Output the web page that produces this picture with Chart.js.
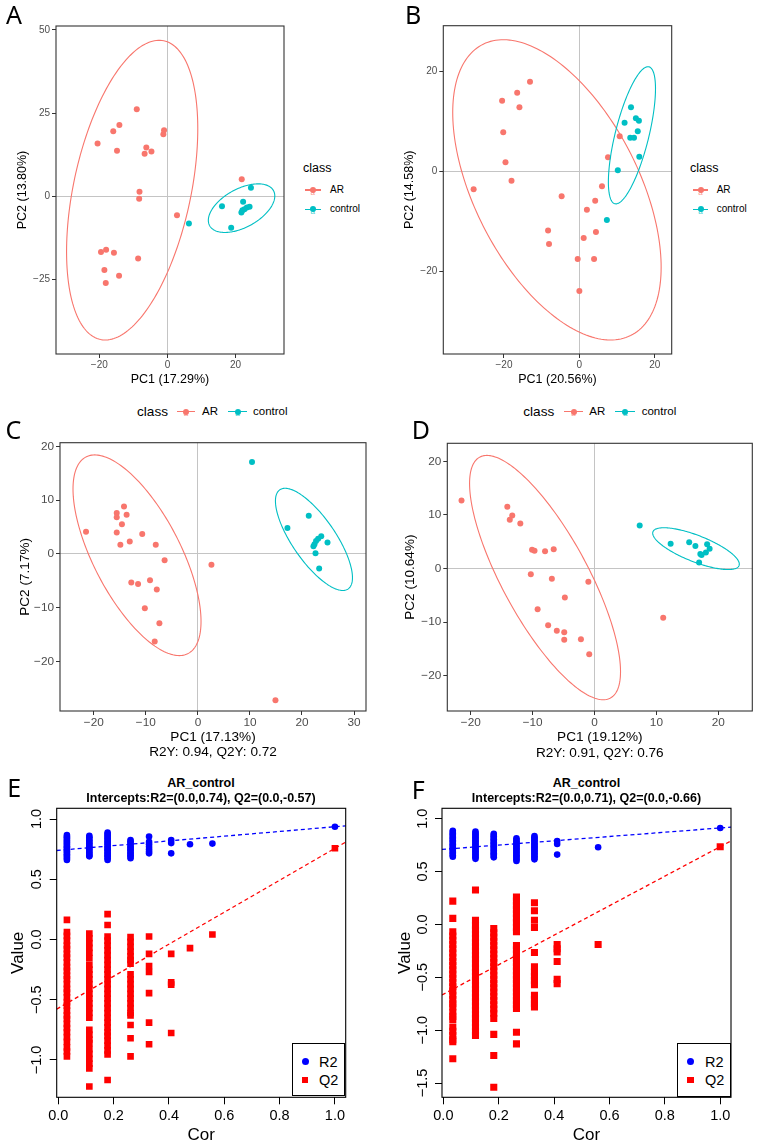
<!DOCTYPE html>
<html>
<head>
<meta charset="utf-8">
<title>PCA, OPLS-DA and permutation plots</title>
<script src="https://cdn.jsdelivr.net/npm/chart.js@4.4.1/dist/chart.umd.min.js"></script>
<style>
html, body { margin: 0; padding: 0; background: #fff; overflow: hidden; }
body { width: 759px; height: 1145px; position: relative; }
canvas { position: absolute; }
.t { position: absolute; white-space: nowrap; line-height: 1; color: #000; }
.letter { position: absolute; font-family: "Noto Sans", sans-serif; font-size: 25px; line-height: 1; color: #000; }
</style>
</head>
<body>
<script>
// ---------- data ----------

// A: PCA
const aArX = [-20.5, -15.9, -14.1, -14.8, -9.0, -1.0, -1.2, -6.2, -6.7, -4.7, -8.2, -8.3, 2.8, 21.8, -19.5, -18.0, -15.7, -8.6, -18.5, -14.2, -18.1];
const aArY = [15.9, 19.6, 21.5, 13.7, 26.2, 19.9, 18.7, 14.7, 12.8, 13.5, 1.4, -0.7, -5.6, 5.2, -16.7, -16.0, -16.9, -18.6, -22.1, -23.8, -26.0];
const aCtX = [6.3, 16.0, 24.5, 22.2, 18.7, 21.7, 22.6, 23.3, 24.1, 22.0];
const aCtY = [-8.1, -2.9, 2.6, -1.6, -9.4, -4.8, -3.8, -3.3, -3.1, -4.1];
// ellipse: centre x, centre y, half width, half height, correlation
const aEllAr = [-10.35, 1.9, 19.25, 45, 0.41];
const aEllCt = [21.75, -3.5, 9.75, 7.3, 0.5];
const aTicksX = [-20, 0, 20];
const aTicksY = [-25, 0, 25, 50];

// B: PCA
const bArX = [-28.05, -20.5, -20.2, -19.6, -18.0, -16.5, -15.9, -13.1, -4.7, -8.3, -8.05, -0.44, 0.0, 1.15, 2.0, 3.9, 4.4, 4.2, 6.0, 7.6, 10.7];
const bArY = [-3.6, 14.1, 7.8, 1.8, -1.9, 15.7, 12.8, 17.9, -5.0, -11.8, -14.5, -17.5, -23.9, -13.3, -7.7, -17.5, -12.1, -5.9, -3.0, 2.8, 7.0];
const bCtX = [7.3, 10.2, 12.0, 13.7, 13.5, 14.5, 15.0, 15.8, 15.5, 15.9];
const bCtY = [-9.7, 0.2, 9.7, 12.8, 6.7, 6.7, 10.6, 10.1, 8.0, 2.9];
const bEllAr = [-5.95, -3.7, 27.65, 30, -0.515];
const bEllCt = [13.95, 7.2, 6.25, 13.7, 0.68];
const bTicksX = [-20, 0, 20];
const bTicksY = [-20, 0, 20];

// C: OPLS-DA
const cArX = [-21.5, -15.6, -15.6, -14.2, -13.7, -14.6, -15.6, -14.9, -13.1, -10.7, -8.1, -6.4, 2.6, -12.8, -11.5, -9.2, -7.9, -10.2, -7.4, -8.3, 14.9];
const cArY = [4.1, 7.6, 6.8, 8.8, 7.3, 5.5, 4.0, 1.7, 2.3, 3.7, 1.7, -1.2, -2.0, -5.3, -5.6, -4.9, -6.6, -10.1, -12.9, -16.3, -27.2];
const cCtX = [10.4, 17.2, 21.3, 23.7, 23.1, 22.7, 22.4, 22.2, 24.9, 22.6, 23.3];
const cCtY = [17.1, 4.8, 7.1, 3.3, 2.8, 2.4, 1.8, 1.4, 2.1, 0.1, -2.7];
const cEllAr = [-11.7, -0.25, 12.3, 18.65, -0.66];
const cEllCt = [22.3, 2.7, 7.4, 9.5, -0.75];
const cTicksX = [-20, -10, 0, 10, 20, 30];
const cTicksY = [-20, -10, 0, 10, 20];

// D: OPLS-DA
const dArX = [-21.5, -14.1, -13.3, -13.7, -12.0, -10.1, -9.7, -8.0, -6.6, -10.3, -6.9, -1.0, -4.8, -9.2, -7.5, -6.1, -4.9, -4.9, -2.2, -0.86, 11.1];
const dArY = [12.7, 11.5, 9.9, 9.1, 8.4, 3.5, 3.3, 3.2, 3.6, -1.1, -1.9, -2.5, -5.4, -7.6, -10.6, -11.6, -11.9, -13.3, -13.2, -16.0, -9.2];
const dCtX = [7.3, 12.3, 15.3, 16.3, 18.2, 18.6, 18.0, 17.1, 16.9, 17.3];
const dCtY = [8.0, 4.6, 4.9, 4.2, 4.5, 3.7, 3.0, 2.7, 1.1, 2.5];
const dEllAr = [-8.0, -1.7, 12.2, 22.8, -0.77];
const dEllCt = [16.4, 3.7, 7.0, 3.9, -0.74];
const dTicksX = [-20, -10, 0, 10, 20];
const dTicksY = [-20, -10, 0, 10, 20];

// E: permutation test (one list of values per Cor column)
const eCor = [0.031, 0.112, 0.178, 0.261, 0.328, 0.408, 0.476, 0.557, 1.0];
const eR2 = [
	[0.867, 0.855, 0.845, 0.835, 0.822, 0.81, 0.80, 0.788, 0.775, 0.765, 0.752, 0.742, 0.73, 0.72, 0.708, 0.697, 0.685, 0.673, 0.66],
	[0.86, 0.848, 0.835, 0.822, 0.81, 0.797, 0.785, 0.772, 0.76, 0.748, 0.735, 0.722, 0.71, 0.698, 0.69],
	[0.887, 0.875, 0.862, 0.85, 0.838, 0.825, 0.812, 0.80, 0.788, 0.775, 0.762, 0.75, 0.738, 0.725, 0.712, 0.70, 0.688, 0.675, 0.66],
	[0.826, 0.815, 0.80, 0.79, 0.775, 0.762, 0.75, 0.738, 0.725, 0.712, 0.70, 0.688, 0.674],
	[0.854, 0.81, 0.79, 0.77, 0.75, 0.73, 0.715],
	[0.826, 0.80, 0.715],
	[0.79],
	[0.796],
	[0.936]
];
const eQ2 = [
	[0.163, 0.062, 0.03, -0.01, -0.05, -0.08, -0.12, -0.15, -0.19, -0.23, -0.26, -0.30, -0.33, -0.37, -0.41, -0.44, -0.48, -0.52, -0.55, -0.59, -0.63, -0.66, -0.70, -0.735, -0.77, -0.81, -0.85, -0.895, -0.93, -0.97],
	[0.05, 0.01, -0.03, -0.07, -0.11, -0.155, -0.21, -0.25, -0.29, -0.33, -0.37, -0.41, -0.45, -0.49, -0.53, -0.57, -0.61, -0.65, -0.75, -0.79, -0.83, -0.86, -0.91, -0.95, -0.99, -1.03, -1.07, -1.22],
	[0.21, 0.12, 0.025, -0.01, -0.05, -0.09, -0.13, -0.17, -0.21, -0.25, -0.29, -0.33, -0.37, -0.41, -0.45, -0.49, -0.53, -0.57, -0.61, -0.65, -0.69, -0.73, -0.77, -0.80, -0.84, -0.88, -0.92, -0.955, -1.166],
	[0.02, -0.02, -0.06, -0.10, -0.14, -0.17, -0.20, -0.29, -0.33, -0.37, -0.41, -0.45, -0.49, -0.53, -0.57, -0.61, -0.63, -0.71, -0.82, -0.97],
	[0.025, -0.12, -0.22, -0.27, -0.445, -0.69, -0.87],
	[-0.12, -0.356, -0.375, -0.776],
	[-0.072],
	[0.041],
	[0.757]
];
// regression lines: value at Cor = 0 and Cor = 1
const eLineR2 = [0.74, 0.936];
const eLineQ2 = [-0.57, 0.757];
const eTicksX = [0, 0.2, 0.4, 0.6, 0.8, 1.0];
const eTicksY = [-1.0, -0.5, 0.0, 0.5, 1.0];

// F: permutation test
const fCor = [0.034, 0.116, 0.182, 0.264, 0.329, 0.411, 0.559, 1.0];
const fR2 = [
	[0.886, 0.873, 0.86, 0.848, 0.835, 0.822, 0.81, 0.797, 0.784, 0.771, 0.758, 0.745, 0.732, 0.72, 0.707, 0.694, 0.681, 0.668, 0.655, 0.64],
	[0.877, 0.864, 0.85, 0.837, 0.824, 0.81, 0.797, 0.784, 0.77, 0.757, 0.743, 0.73, 0.716, 0.703, 0.69, 0.676, 0.662, 0.648, 0.634, 0.62],
	[0.858, 0.845, 0.832, 0.818, 0.805, 0.792, 0.778, 0.765, 0.752, 0.738, 0.725, 0.712, 0.698, 0.685, 0.672, 0.66, 0.647, 0.634],
	[0.814, 0.80, 0.787, 0.774, 0.76, 0.747, 0.734, 0.72, 0.707, 0.694, 0.68, 0.667, 0.654, 0.64, 0.627, 0.614, 0.60],
	[0.836, 0.822, 0.809, 0.795, 0.781, 0.768, 0.754, 0.74, 0.727, 0.713, 0.70, 0.686, 0.672, 0.658, 0.644, 0.63, 0.615],
	[0.789, 0.76, 0.66],
	[0.729],
	[0.912]
];
const fQ2 = [
	[0.22, 0.057, -0.07, -0.11, -0.15, -0.19, -0.23, -0.27, -0.31, -0.35, -0.39, -0.43, -0.47, -0.51, -0.55, -0.59, -0.63, -0.67, -0.71, -0.75, -0.78, -0.83, -0.87, -0.90, -0.97, -1.01, -1.05, -1.09, -1.11, -1.27],
	[0.325, 0.04, -0.01, -0.05, -0.09, -0.13, -0.17, -0.21, -0.25, -0.29, -0.33, -0.37, -0.41, -0.45, -0.49, -0.53, -0.57, -0.61, -0.65, -0.69, -0.73, -0.77, -0.81, -0.85, -0.89, -0.93, -0.97, -1.01, -1.05],
	[-0.04, -0.08, -0.12, -0.16, -0.20, -0.24, -0.28, -0.32, -0.36, -0.40, -0.44, -0.48, -0.52, -0.56, -0.60, -0.64, -0.68, -0.72, -0.76, -0.80, -0.84, -0.89, -1.04, -1.24, -1.54],
	[0.26, 0.22, 0.18, 0.14, 0.10, 0.06, 0.02, -0.03, -0.07, -0.20, -0.24, -0.28, -0.32, -0.36, -0.40, -0.44, -0.48, -0.52, -0.56, -0.60, -0.64, -0.68, -0.72, -0.76, -0.795, -1.02, -1.13],
	[0.205, 0.13, 0.04, -0.03, -0.265, -0.40, -0.45, -0.49, -0.53, -0.57, -0.67, -0.71, -0.75, -0.78],
	[-0.19, -0.23, -0.26, -0.35, -0.52, -0.56],
	[-0.19],
	[0.735]
];
const fLineR2 = [0.71, 0.912];
const fLineQ2 = [-0.66, 0.735];
const fTicksX = [0, 0.2, 0.4, 0.6, 0.8, 1.0];
const fTicksY = [-1.5, -1.0, -0.5, 0.0, 0.5, 1.0];

// ---------- styles ----------
const FONT = '"Liberation Sans", Arial, Helvetica, sans-serif';
const AR_COLOR = '#F8766D';
const CT_COLOR = '#00BFC4';
const R2_COLOR = '#0000FF';
const Q2_COLOR = '#FF0000';

//helpers

function fmtPca(v){
	return (v < 0 ? '\u2212' : '') + Math.abs(v);
}

function fmtPerm(v){
	return (v < 0 ? '\u2212' : '') + Math.abs(v).toFixed(1);
}

function toPoints(xs, ys){
	return xs.map(function(x, i){ return {x: x, y: ys[i]}; });
}

function columnPoints(cols, vals){
	let pts = [];
	for(let i = 0; i < cols.length; i++){
		for(let j = 0; j < vals[i].length; j++){
			pts.push({x: cols[i], y: vals[i][j]});
		}
	}
	return pts;
}

// ellipses, dashed regression lines and the panel frame
function makeExtras(ellipses, ablines, frameColor){
	return {
		id: 'extras',
		afterDatasetsDraw(chart){
			const ctx = chart.ctx;
			const a = chart.chartArea;
			const sx = chart.scales.x;
			const sy = chart.scales.y;
			ctx.save();
			ctx.beginPath();
			ctx.rect(a.left, a.top, a.right - a.left, a.bottom - a.top);
			ctx.clip();
			ellipses.forEach(function(e){
				const phi = Math.acos(e.p[4]);
				ctx.beginPath();
				for(let i = 0; i <= 200; i++){
					const t = i / 200 * 2 * Math.PI;
					const px = sx.getPixelForValue(e.p[0] + e.p[2] * Math.cos(t));
					const py = sy.getPixelForValue(e.p[1] + e.p[3] * Math.cos(t - phi));
					if(i == 0){ ctx.moveTo(px, py); } else { ctx.lineTo(px, py); }
				}
				ctx.closePath();
				ctx.strokeStyle = e.color;
				ctx.lineWidth = 1.1;
				ctx.stroke();
			});
			ablines.forEach(function(l){
				const x0 = sx.min, x1 = sx.max;
				const slope = l.p[1] - l.p[0];
				ctx.beginPath();
				ctx.moveTo(sx.getPixelForValue(x0), sy.getPixelForValue(l.p[0] + slope * x0));
				ctx.lineTo(sx.getPixelForValue(x1), sy.getPixelForValue(l.p[0] + slope * x1));
				ctx.setLineDash([4, 3]);
				ctx.strokeStyle = l.color;
				ctx.lineWidth = 1.3;
				ctx.stroke();
			});
			ctx.restore();
			ctx.save();
			ctx.setLineDash([]);
			ctx.strokeStyle = frameColor;
			ctx.lineWidth = 1.1;
			ctx.strokeRect(a.left, a.top, a.right - a.left, a.bottom - a.top);
			ctx.restore();
		}
	};
}

// p.canvas = [left, top, width, height], p.area = [left, right, top, bottom] (page px)
function makePanel(p){
	const cv = document.createElement('canvas');
	cv.width = p.canvas[2];
	cv.height = p.canvas[3];
	cv.style.left = p.canvas[0] + 'px';
	cv.style.top = p.canvas[1] + 'px';
	cv.style.width = p.canvas[2] + 'px';
	cv.style.height = p.canvas[3] + 'px';
	document.body.appendChild(cv);

	const yw = p.area[0] - p.canvas[0];
	const padTop = p.area[2] - p.canvas[1];
	const padRight = p.canvas[0] + p.canvas[2] - p.area[1];
	const xh = p.canvas[1] + p.canvas[3] - p.area[3];
	const xlh = p.xTitle.size * p.xTitle.lh;
	const ylh = p.yTitle.size * p.yTitle.lh;
	const xLines = Array.isArray(p.xTitle.text) ? p.xTitle.text.length : 1;
	const xPad = p.canvas[1] + p.canvas[3] - p.xTitle.cy - xlh / 2 - xlh * (xLines - 1);
	const yPad = p.yTitle.cx - p.canvas[0] - ylh / 2;

	const gridColor = function(c){
		return (p.zeroLines && c.tick && c.tick.value === 0) ? '#C4C4C4' : 'rgba(0,0,0,0)';
	};

	return new Chart(cv, {
		type: 'scatter',
		data: { datasets: p.datasets },
		options: {
			responsive: false,
			animation: false,
			devicePixelRatio: 1,
			layout: { padding: { top: padTop, right: padRight, left: 0, bottom: 0 } },
			plugins: { legend: { display: false }, tooltip: { enabled: false } },
			scales: {
				x: {
					type: 'linear',
					min: p.xRange[0],
					max: p.xRange[1],
					afterBuildTicks: function(s){ s.ticks = p.xTicks.map(function(v){ return {value: v}; }); },
					afterFit: function(s){ s.height = xh; },
					grid: { display: true, drawOnChartArea: true, color: gridColor, tickColor: p.axisColor, tickLength: p.tickLen, lineWidth: 1 },
					border: { display: false },
					ticks: { autoSkip: false, maxRotation: 0, minRotation: 0, padding: p.xTickPad, color: p.tickColor,
						font: { family: FONT, size: p.tickSize }, callback: function(v){ return p.fmt(v); } },
					title: { display: true, text: p.xTitle.text, color: '#000',
						font: { family: FONT, size: p.xTitle.size, lineHeight: p.xTitle.lh }, padding: { top: 0, bottom: xPad } }
				},
				y: {
					type: 'linear',
					min: p.yRange[0],
					max: p.yRange[1],
					afterBuildTicks: function(s){ s.ticks = p.yTicks.map(function(v){ return {value: v}; }); },
					afterFit: function(s){ s.width = yw; },
					grid: { display: true, drawOnChartArea: true, color: gridColor, tickColor: p.axisColor, tickLength: p.tickLen, lineWidth: 1 },
					border: { display: false },
					ticks: { autoSkip: false, minRotation: p.yRot, maxRotation: p.yRot, crossAlign: p.yRot ? 'center' : 'near',
						padding: p.yTickPad, color: p.tickColor,
						font: { family: FONT, size: p.tickSize }, callback: function(v){ return p.fmt(v); } },
					title: { display: true, text: p.yTitle.text, color: '#000',
						font: { family: FONT, size: p.yTitle.size, lineHeight: p.yTitle.lh }, padding: { top: yPad, bottom: 0 } }
				}
			}
		},
		plugins: [makeExtras(p.ellipses || [], p.ablines || [], p.axisColor)]
	});
}

function pcaSets(arX, arY, ctX, ctY){
	return [
		{ label: 'AR', data: toPoints(arX, arY), backgroundColor: AR_COLOR, borderWidth: 0, pointRadius: 3, pointHoverRadius: 3 },
		{ label: 'control', data: toPoints(ctX, ctY), backgroundColor: CT_COLOR, borderWidth: 0, pointRadius: 3, pointHoverRadius: 3 }
	];
}

function permSets(cor, r2, q2, sq){
	return [
		{ label: 'R2', data: columnPoints(cor, r2), backgroundColor: R2_COLOR, borderWidth: 0, pointRadius: 3.3, pointStyle: 'circle' },
		{ label: 'Q2', data: columnPoints(cor, q2), backgroundColor: Q2_COLOR, borderWidth: 0, pointRadius: sq, pointStyle: 'rect' }
	];
}

// text on the page
function txt(s, x, y, size, align, extra){
	const d = document.createElement('div');
	d.className = 't';
	d.textContent = s;
	d.style.left = x + 'px';
	d.style.top = y + 'px';
	d.style.fontFamily = FONT;
	d.style.fontSize = size + 'px';
	d.style.transform = align == 'c' ? 'translate(-50%,-50%)' : 'translateY(-50%)';
	if(extra){ d.style.cssText += extra; }
	document.body.appendChild(d);
	return d;
}

function letter(s, x, capTop){
	const d = document.createElement('div');
	d.className = 'letter';
	d.textContent = s;
	d.style.left = x + 'px';
	d.style.top = (capTop - 4.5) + 'px';
	document.body.appendChild(d);
}

function box(x, y, w, h, css){
	const d = document.createElement('div');
	d.style.cssText = 'position:absolute;left:' + x + 'px;top:' + y + 'px;width:' + w + 'px;height:' + h + 'px;' + css;
	document.body.appendChild(d);
	return d;
}

// ggplot style legend key: line + point + small "a"
function pcaKey(x1, x2, y, color){
	const cx = (x1 + x2) / 2;
	box(x1, y - 0.6, x2 - x1, 1.2, 'background:' + color);
	box(cx - 3, y - 3, 6, 6, 'border-radius:50%;background:' + color);
	txt('a', cx, y + 2.5, 8, 'c', 'color:' + color + ';opacity:0.75;');
}

// ---------- panels ----------

makePanel({
	canvas: [0, 0, 300, 400], area: [56, 284, 26, 354],
	xRange: [-32.7, 34.2], yRange: [-47.3, 51.2], xTicks: aTicksX, yTicks: aTicksY,
	fmt: fmtPca, tickSize: 10, tickColor: '#4D4D4D', axisColor: '#333333', tickLen: 4, xTickPad: 1, yTickPad: 2, yRot: 0,
	zeroLines: true,
	xTitle: { text: 'PC1 (17.29%)', size: 12.5, lh: 1.2, cy: 380 },
	yTitle: { text: 'PC2 (13.80%)', size: 12.5, lh: 1.2, cx: 23 },
	datasets: pcaSets(aArX, aArY, aCtX, aCtY),
	ellipses: [{ p: aEllAr, color: AR_COLOR }, { p: aEllCt, color: CT_COLOR }]
});

makePanel({
	canvas: [380, 0, 310, 400], area: [443.3, 671.7, 25.7, 354],
	xRange: [-36.1, 24.5], yRange: [-36.5, 29.1], xTicks: bTicksX, yTicks: bTicksY,
	fmt: fmtPca, tickSize: 10, tickColor: '#4D4D4D', axisColor: '#333333', tickLen: 4, xTickPad: 1, yTickPad: 2, yRot: 0,
	zeroLines: true,
	xTitle: { text: 'PC1 (20.56%)', size: 12.5, lh: 1.2, cy: 380 },
	yTitle: { text: 'PC2 (14.58%)', size: 12.5, lh: 1.2, cx: 410 },
	datasets: pcaSets(bArX, bArY, bCtX, bCtY),
	ellipses: [{ p: bEllAr, color: AR_COLOR }, { p: bEllCt, color: CT_COLOR }]
});

makePanel({
	canvas: [0, 425, 380, 340], area: [60, 366, 442.7, 711],
	xRange: [-26.5, 32.3], yRange: [-29.2, 20.67], xTicks: cTicksX, yTicks: cTicksY,
	fmt: fmtPca, tickSize: 11.8, tickColor: '#4D4D4D', axisColor: '#333333', tickLen: 4, xTickPad: 1, yTickPad: 2, yRot: 0,
	zeroLines: true,
	xTitle: { text: ['PC1 (17.13%)', 'R2Y: 0.94, Q2Y: 0.72'], size: 13.6, lh: 1.15, cy: 737 },
	yTitle: { text: 'PC2 (7.17%)', size: 13.6, lh: 1.2, cx: 25 },
	datasets: pcaSets(cArX, cArY, cCtX, cCtY),
	ellipses: [{ p: cEllAr, color: AR_COLOR }, { p: cEllCt, color: CT_COLOR }]
});

makePanel({
	canvas: [380, 425, 379, 340], area: [447.3, 752.3, 443.3, 711],
	xRange: [-23.8, 25.5], yRange: [-26.6, 23.36], xTicks: dTicksX, yTicks: dTicksY,
	fmt: fmtPca, tickSize: 11.8, tickColor: '#4D4D4D', axisColor: '#333333', tickLen: 4, xTickPad: 1, yTickPad: 2, yRot: 0,
	zeroLines: true,
	xTitle: { text: ['PC1 (19.12%)', 'R2Y: 0.91, Q2Y: 0.76'], size: 13.6, lh: 1.15, cy: 737.3 },
	yTitle: { text: 'PC2 (10.64%)', size: 13.6, lh: 1.2, cx: 410.7 },
	datasets: pcaSets(dArX, dArY, dCtX, dCtY),
	ellipses: [{ p: dEllAr, color: AR_COLOR }, { p: dEllCt, color: CT_COLOR }]
});

makePanel({
	canvas: [0, 800, 380, 345], area: [56.7, 345.7, 808.3, 1097.3],
	xRange: [-0.006, 1.039], yRange: [-1.31, 1.089], xTicks: eTicksX, yTicks: eTicksY,
	fmt: fmtPerm, tickSize: 14.5, tickColor: '#000', axisColor: '#000', tickLen: 7, xTickPad: 3, yTickPad: -2, yRot: 90,
	zeroLines: false,
	xTitle: { text: 'Cor', size: 17, lh: 1, cy: 1135.7 },
	yTitle: { text: 'Value', size: 17, lh: 1, cx: 18.3 },
	datasets: permSets(eCor, eR2, eQ2, 4.7),
	ablines: [{ p: eLineR2, color: R2_COLOR }, { p: eLineQ2, color: Q2_COLOR }]
});

makePanel({
	canvas: [380, 800, 379, 345], area: [442, 731, 808.3, 1097.3],
	xRange: [-0.005, 1.039], yRange: [-1.635, 1.098], xTicks: fTicksX, yTicks: fTicksY,
	fmt: fmtPerm, tickSize: 14.5, tickColor: '#000', axisColor: '#000', tickLen: 7, xTickPad: 3, yTickPad: -2, yRot: 90,
	zeroLines: false,
	xTitle: { text: 'Cor', size: 17, lh: 1, cy: 1135.7 },
	yTitle: { text: 'Value', size: 17, lh: 1, cx: 405 },
	datasets: permSets(fCor, fR2, fQ2, 5),
	ablines: [{ p: fLineR2, color: R2_COLOR }, { p: fLineQ2, color: Q2_COLOR }]
});

// ---------- letters, legends, titles ----------

letter('A', 6, 6);
letter('B', 405, 6.7);
letter('C', 5.5, 421.7);
letter('D', 411.7, 421.7);
letter('E', 7.3, 779.3);
letter('F', 411.7, 781.7);

// A / B legends (right side)
txt('class', 303, 168, 12.5, 'l');
pcaKey(305, 320.7, 190, AR_COLOR);
txt('AR', 330, 190, 10, 'l');
pcaKey(305, 320.7, 209.3, CT_COLOR);
txt('control', 330, 209.3, 10, 'l');

txt('class', 690, 168, 12.5, 'l');
pcaKey(692.7, 708.3, 190, AR_COLOR);
txt('AR', 716.7, 190, 10, 'l');
pcaKey(692.7, 708.3, 209.3, CT_COLOR);
txt('control', 716.7, 209.3, 10, 'l');

// C / D legends (top)
txt('class', 137, 411.7, 13.6, 'l');
pcaKey(177, 195, 411.7, AR_COLOR);
txt('AR', 202, 411.7, 11.5, 'l');
pcaKey(228, 247, 411.7, CT_COLOR);
txt('control', 253, 411.7, 11.5, 'l');

txt('class', 523.3, 411.7, 13.6, 'l');
pcaKey(564.3, 582.7, 411.7, AR_COLOR);
txt('AR', 589.3, 411.7, 11.5, 'l');
pcaKey(615.3, 635, 411.7, CT_COLOR);
txt('control', 641.7, 411.7, 11.5, 'l');

// E / F titles
txt('AR_control', 201, 783.3, 12.5, 'c', 'font-weight:bold;');
txt('Intercepts:R2=(0.0,0.74), Q2=(0.0,-0.57)', 201, 798.3, 12.5, 'c', 'font-weight:bold;');
txt('AR_control', 586.5, 782.7, 12.5, 'c', 'font-weight:bold;');
txt('Intercepts:R2=(0.0,0.71), Q2=(0.0,-0.66)', 586.5, 797.7, 12.5, 'c', 'font-weight:bold;');

// E / F legends
box(291.7, 1043.3, 53, 53, 'border:1px solid #000;background:#fff;box-sizing:border-box;');
box(301.5, 1058.2, 7, 7, 'border-radius:50%;background:' + R2_COLOR);
txt('R2', 319, 1061.7, 14.5, 'l');
box(301.7, 1076.7, 6.6, 6.6, 'background:' + Q2_COLOR);
txt('Q2', 319, 1080, 14.5, 'l');

box(677, 1043.3, 54, 54, 'border:1px solid #000;background:#fff;box-sizing:border-box;');
box(687.2, 1058.2, 7, 7, 'border-radius:50%;background:' + R2_COLOR);
txt('R2', 705, 1061.7, 14.5, 'l');
box(687.4, 1076.7, 6.6, 6.6, 'background:' + Q2_COLOR);
txt('Q2', 705, 1080, 14.5, 'l');
</script>
</body>
</html>
